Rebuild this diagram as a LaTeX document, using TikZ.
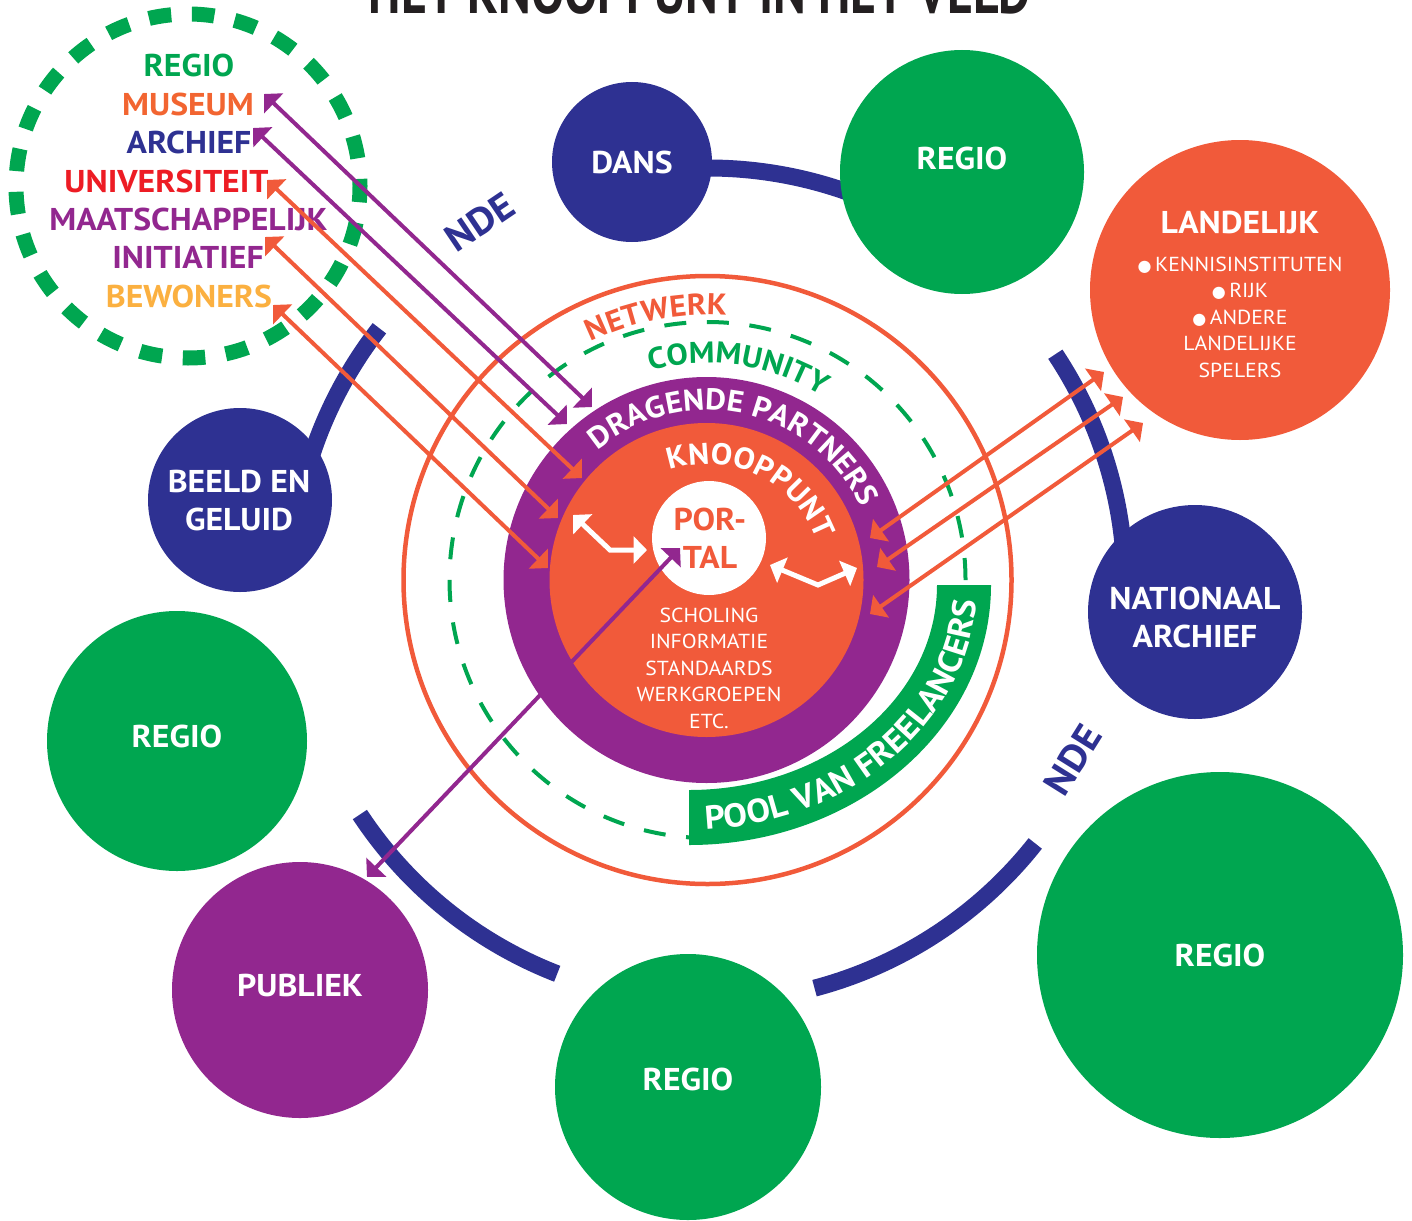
\documentclass[tikz,border=0pt]{standalone}
\usepackage{fontspec}
\usepackage{graphicx}
\setmainfont[FakeStretch=1.07]{PT Sans}
\newfontfamily\symbfont{DejaVu Sans}
\usetikzlibrary{arrows.meta, decorations.text}

\definecolor{ndegreen}{HTML}{00A650}
\definecolor{ndeblue}{HTML}{2E3192}
\definecolor{ndeorange}{HTML}{F15A3A}
\definecolor{ndepurple}{HTML}{92278F}
\definecolor{ndered}{HTML}{ED1C24}
\definecolor{ndeyellow}{HTML}{FBB040}
\definecolor{museumorange}{HTML}{F26531}
\definecolor{titleblack}{HTML}{231F20}

\newcommand{\bigbold}{\fontsize{31.5}{38}\selectfont\bfseries}
\newcommand{\ringbold}{\fontsize{30}{36}\selectfont\bfseries}
\newcommand{\ndebold}{\fontsize{38}{42}\selectfont\bfseries}
\newcommand{\poolbold}{\fontsize{33}{38}\selectfont\bfseries}
\newcommand{\smallreg}{\fontsize{20.3}{26.6}\selectfont}
\newcommand{\dotbullet}{{\symbfont\fontsize{16}{16}\selectfont ●}\,}

\begin{document}
\begin{tikzpicture}[x=1pt, y=1pt,
bubble/.style={circle, inner sep=0pt, minimum size=#1},
lbl/.style={text=white, font=\bigbold, inner sep=0pt, anchor=base},
lbls/.style={text=white, font=\bigbold, inner sep=0pt, anchor=north, align=center},
lst/.style={font=\bigbold, inner sep=0pt, anchor=base},
smalllist/.style={text=white, font=\smallreg, inner sep=0pt, anchor=north, align=center},
ndearc/.style={draw=ndeblue, line width=17pt},
ndetxt/.style={text=ndeblue, font=\ndebold, inner sep=0pt},
twoway/.style={>={Triangle[length=13.5pt,width=27pt]}, <->, line width=4pt},
elbow/.style={twoway, draw=white, line width=5pt}
]

\useasboundingbox (0,0) rectangle (1412,-1220);

\coordinate (ctr) at (707.5,-580);
\coordinate (ndectr) at (708,-585);

% NDE ring
\draw[ndearc] ([shift={(100:417)}]ndectr) arc[start angle=100, end angle=68, radius=417];
\draw[ndearc] ([shift={(142:417)}]ndectr) arc[start angle=142, end angle=166, radius=417];
\draw[ndearc] ([shift={(33.6:417)}]ndectr) arc[start angle=33.6, end angle=-2, radius=417];
\draw[ndearc] ([shift={(213.4:417)}]ndectr) arc[start angle=213.4, end angle=248.8, radius=417];
\draw[ndearc] ([shift={(284.8:417)}]ndectr) arc[start angle=284.8, end angle=321.7, radius=417];

% bubbles
\node[bubble=160, fill=ndeblue] (dans) at (632,-162) {};
\node[bubble=244, fill=ndegreen] (regionorth) at (962,-172) {};
\node[bubble=300, fill=ndeorange] (landelijk) at (1240,-290) {};
\node[bubble=184, fill=ndeblue] (beeld) at (240,-500) {};
\node[bubble=214, fill=ndeblue] (nationaal) at (1195,-612) {};
\node[bubble=260, fill=ndegreen] (regiowest) at (177,-741) {};
\node[bubble=256, fill=ndepurple] (publiek) at (300,-990) {};
\node[bubble=266, fill=ndegreen] (regiozuid) at (688,-1087) {};
\node[bubble=366, fill=ndegreen] (regiooost) at (1220,-955) {};

\node[lbl] (danslbl) at (632,-173) {DANS};
\node[lbl] (regionorthlbl) at (962,-169) {REGIO};
\node[lbl] (landelijklbl) at (1240,-233) {LANDELIJK};
\node[smalllist] (landelijklist) at (1240,-256.5) {\dotbullet KENNISINSTITUTEN\\ \dotbullet RIJK\\ \dotbullet ANDERE\\ LANDELIJKE\\ SPELERS};
\node[lbls] (beeldlbl) at (239,-470) {BEELD EN\\ GELUID};
\node[lbls] (nationaallbl) at (1195,-587) {NATIONAAL\\ ARCHIEF};
\node[lbl] (regiowestlbl) at (177,-747) {REGIO};
\node[lbl] (publieklbl) at (300,-996) {PUBLIEK};
\node[lbl] (regiozuidlbl) at (688,-1090) {REGIO};
\node[lbl] (regiooostlbl) at (1220,-966) {REGIO};

% regio group
\draw[ndegreen, line width=15pt, dash pattern=on 22.5pt off 20.7pt, dash phase=15.4pt] (188,-186) circle[radius=172];
\node[lst, text=ndegreen] (regio) at (189,-77) {REGIO};
\node[lst, text=museumorange] (museum) at (188,-115) {MUSEUM};
\node[lst, text=ndeblue] (archief) at (189,-153) {ARCHIEF};
\node[lst, text=ndered] (universiteit) at (166.5,-192) {UNIVERSITEIT};
\node[lst, text=ndepurple] (maatschappelijk) at (188.5,-230) {MAATSCHAPPELIJK};
\node[lst, text=ndepurple] (initiatief) at (188,-268) {INITIATIEF};
\node[lst, text=ndeyellow] (bewoners) at (189,-307) {BEWONERS};

% rings in the middle
\draw[ndeorange, line width=4.5pt] (ctr) circle[radius=304];
\draw[ndegreen, line width=4pt, dash pattern=on 22pt off 20.66pt] (ctr) circle[radius=258];
\fill[ndegreen] (991,-585) -- (937,-585) arc[start angle=0, end angle=-90, x radius=248, y radius=205] -- (689,-845) arc[start angle=-90, end angle=0, x radius=302, y radius=260] -- cycle;
\node[bubble=406, fill=ndepurple] (partners) at (706.5,-580) {};
\node[bubble=314, fill=ndeorange] (knooppunt) at (706.5,-580) {};
\node[bubble=114, fill=white] (portal) at (709,-538) {};

\node[lbls, text=ndeorange] (portallbl) at (710,-508) {POR-\\ TAL};
\node[smalllist] (taken) at (709,-607.5) {SCHOLING\\ INFORMATIE\\ STANDAARDS\\ WERKGROEPEN\\ ETC.};

% curved labels
\path[decorate, decoration={text along path, text align=center,
  text={|\ringbold\color{ndeorange}|NETWERK}}]
  ([shift={(141:265)}]ctr) arc[start angle=141, end angle=61, radius=265];
\path[decorate, decoration={text along path, text align=center,
  text={|\ringbold\color{ndegreen}|COMMUNITY}}]
  ([shift={(131.7:217)}]ctr) arc[start angle=131.7, end angle=31.7, radius=217];
\path[decorate, decoration={text along path, text align=center,
  text={|\ringbold\color{white}|DRAGENDE PARTNERS}}]
  ([shift={(147.7:170)}]ctr) arc[start angle=147.7, end angle=7.7, radius=170];
\path[decorate, decoration={text along path, text align=center,
  text={|\ringbold\color{white}|KNOOPPUNT}}]
  ([shift={(124.6:116)}]ctr) arc[start angle=124.6, end angle=4.6, radius=116];
\path[decorate, decoration={text along path, text align=center,
  text={|\poolbold\color{white}|POOL VAN FREELANCERS}}]
  (689,-830) arc[start angle=-90, end angle=0, x radius=288, y radius=245];

% connectors
\coordinate (museumtip) at (264,-94);
\coordinate (museumin) at (592,-407);
\coordinate (archieftip) at (253,-128);
\coordinate (archiefin) at (567,-424);
\coordinate (unitip) at (267,-180);
\coordinate (uniin) at (582,-478);
\coordinate (initip) at (265,-237);
\coordinate (iniin) at (558,-518);
\coordinate (bewtip) at (273,-305);
\coordinate (bewin) at (548,-568);
\coordinate (landin1) at (870,-538);
\coordinate (landtip1) at (1104,-372);
\coordinate (landin2) at (877,-567);
\coordinate (landtip2) at (1123,-397);
\coordinate (landin3) at (870,-614);
\coordinate (landtip3) at (1143,-423);
\coordinate (portalin) at (680,-548);
\coordinate (publiektip) at (367,-877);

\draw[twoway, ndepurple] (museumtip) -- (museumin);
\draw[twoway, ndepurple] (archieftip) -- (archiefin);
\draw[twoway, ndeorange] (unitip) -- (uniin);
\draw[twoway, ndeorange] (initip) -- (iniin);
\draw[twoway, ndeorange] (bewtip) -- (bewin);
\draw[twoway, ndeorange] (landin1) -- (landtip1);
\draw[twoway, ndeorange] (landin2) -- (landtip2);
\draw[twoway, ndeorange] (landin3) -- (landtip3);
\draw[twoway, ndepurple] (portalin) -- (publiektip);

\coordinate (wl1) at (573,-515);
\coordinate (wl2) at (647,-550);
\coordinate (wr1) at (770,-565);
\coordinate (wr2) at (857,-568);
\draw[elbow] (wl1) -- (610,-550) -- (wl2);
\draw[elbow] (wr1) -- (818,-585) -- (wr2);

% NDE labels
\node[ndetxt, rotate=34] (ndenw) at (480,-222) {NDE};
\node[ndetxt, rotate=58] (ndezo) at (1073,-760) {NDE};

\node[anchor=base, inner sep=0pt, text=titleblack] (title) at (700,-14)
  {\resizebox{662pt}{45pt}{\bfseries HET KNOOPPUNT IN HET VELD}};

\end{tikzpicture}
\end{document}
